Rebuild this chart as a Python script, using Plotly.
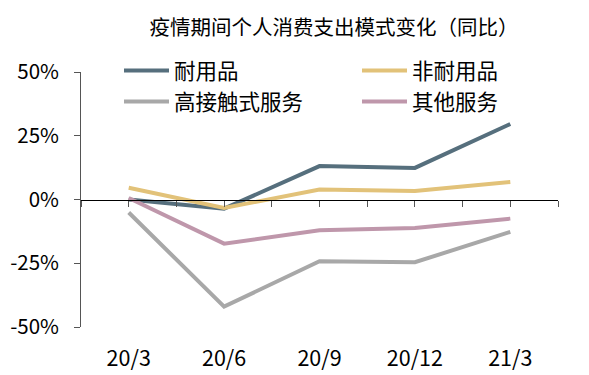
import plotly.graph_objects as go

title = "疫情期间个人消费支出模式变化（同比）"
quarters = ["20/3", "20/6", "20/9", "20/12", "21/3"]
durable = [0.0, -3.6, 13.1, 12.4, 29.6]
nondurable = [4.6, -3.3, 3.9, 3.3, 6.9]
high_contact = [-5.1, -42.0, -24.2, -24.6, -12.7]
other_services = [0.6, -17.3, -12.1, -11.2, -7.5]
y_ticks = [50, 25, 0, -25, -50]
y_tick_labels = ["50%", "25%", "0%", "-25%", "-50%"]

series = [
    ("耐用品", durable, "#566F7D", "x"),
    ("非耐用品", nondurable, "#E2C279", "x"),
    ("高接触式服务", high_contact, "#A8A8A8", "x"),
    ("其他服务", other_services, "#BF97AB", "x2"),
]

# the page body has an 8px default margin, so the figure is drawn 8px smaller
OFF = 8
W, H = 589 - OFF, 375 - OFF
FONT = "Noto Sans CJK SC"
fig = go.Figure()
for name, vals, color, xa in series:
    fig.add_trace(go.Scatter(
        x=list(range(len(quarters))), y=vals, name=name, mode="lines", xaxis=xa,
        line=dict(color=color, width=4), hoverinfo="skip",
    ))

half_ticks = [i / 2 for i in range(-1, 2 * len(quarters))]

fig.update_layout(
    width=W, height=H,
    margin=dict(l=81 - OFF, r=31, t=72 - OFF, b=48, autoexpand=False),
    paper_bgcolor="white", plot_bgcolor="white",
    font=dict(family=FONT, color="#000000"),
    title=dict(text=title, x=(334 - OFF) / W, xanchor="center",
               y=1 - (28 - OFF) / H, yanchor="middle",
               xref="container", yref="container",
               font=dict(size=20.5, family=FONT, color="#000")),
    showlegend=True,
    legend=dict(orientation="h", xref="container", yref="container",
                x=(119 - OFF) / W, y=1 - (50 - OFF) / H, xanchor="left", yanchor="top",
                entrywidth=178, itemwidth=45, font=dict(size=21.5, family=FONT),
                bgcolor="rgba(0,0,0,0)", traceorder="normal"),
    xaxis=dict(range=[-0.5, len(quarters) - 0.5], tickvals=list(range(len(quarters))),
               ticktext=quarters, showline=False, showgrid=False, zeroline=False,
               ticks="", ticklabelstandoff=16, tickfont=dict(size=21.5, family=FONT)),
    xaxis2=dict(overlaying="x", anchor="free", position=0.5, side="bottom",
                range=[-0.5, len(quarters) - 0.5], tickvals=half_ticks,
                showticklabels=False, showline=True, linecolor="#000", linewidth=1,
                ticks="outside", ticklen=6, tickcolor="#555", showgrid=False, zeroline=False),
    yaxis=dict(range=[-50, 50], tickvals=y_ticks, ticktext=y_tick_labels,
               showline=True, linecolor="#555", linewidth=1, ticks="outside", ticklen=6,
               tickcolor="#555", showgrid=False, zeroline=False, ticklabelstandoff=11,
               tickfont=dict(size=20.5, family=FONT)),
)

fig.write_html("out.html")
